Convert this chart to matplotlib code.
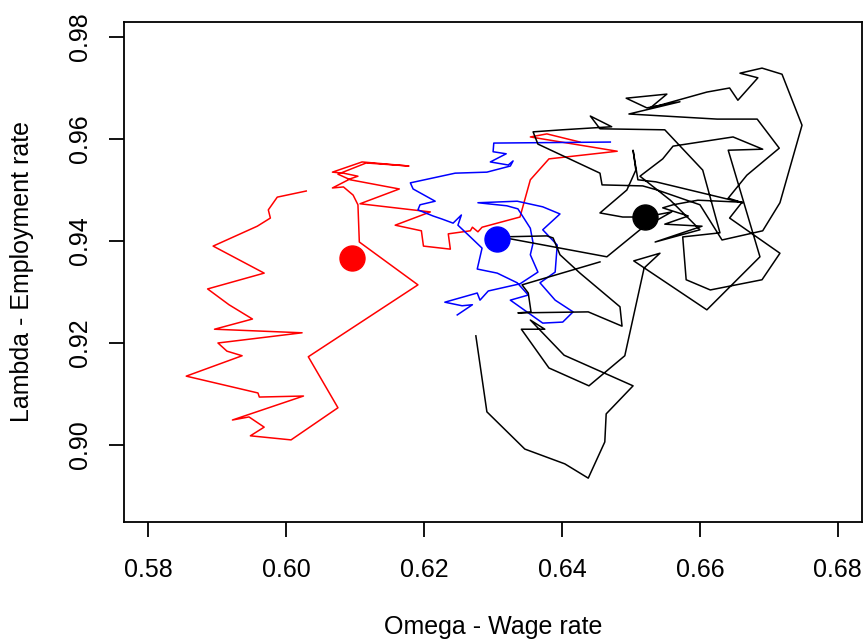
import matplotlib
matplotlib.use("Agg")
import matplotlib.pyplot as plt

plt.rcParams['font.family'] = ['Liberation Sans', 'DejaVu Sans']

# ---- data: (omega, lambda) trajectories ----
red_omega = [0.6029, 0.5987, 0.5974, 0.5977, 0.5958, 0.5894, 0.5968, 0.5886, 0.5917, 0.5951,
             0.5896, 0.6023, 0.5901, 0.5914, 0.5936, 0.5855, 0.5959, 0.5961, 0.6025, 0.5922,
             0.5946, 0.5968, 0.5948, 0.6007, 0.6075, 0.6032, 0.6191, 0.6106, 0.6104, 0.6097,
             0.6083, 0.6067, 0.6093, 0.6104, 0.6083, 0.6067, 0.6110, 0.6178, 0.6116, 0.6075,
             0.6093, 0.6164, 0.6107, 0.6209, 0.6158, 0.6196, 0.6199, 0.6238, 0.6235, 0.6267,
             0.6270, 0.6278, 0.6284, 0.6339, 0.6354, 0.6381, 0.6480, 0.6354, 0.6378, 0.6426]
red_lambda = [0.9498, 0.9486, 0.9461, 0.9445, 0.9429, 0.9390, 0.9337, 0.9306, 0.9275, 0.9247,
              0.9227, 0.9220, 0.9200, 0.9184, 0.9175, 0.9135, 0.9102, 0.9094, 0.9096, 0.9049,
              0.9055, 0.9035, 0.9018, 0.9010, 0.9073, 0.9173, 0.9314, 0.9398, 0.9471, 0.9490,
              0.9506, 0.9504, 0.9522, 0.9527, 0.9533, 0.9535, 0.9555, 0.9547, 0.9553, 0.9531,
              0.9520, 0.9502, 0.9473, 0.9457, 0.9431, 0.9420, 0.9390, 0.9384, 0.9414, 0.9420,
              0.9427, 0.9418, 0.9427, 0.9447, 0.9520, 0.9561, 0.9576, 0.9604, 0.9610, 0.9594]

blue_omega = [0.6470, 0.6301, 0.6300, 0.6319, 0.6296, 0.6322, 0.6329, 0.6325, 0.6291, 0.6245,
              0.6180, 0.6184, 0.6216, 0.6194, 0.6191, 0.6213, 0.6226, 0.6242, 0.6254, 0.6249,
              0.6267, 0.6284, 0.6277, 0.6306, 0.6335, 0.6351, 0.6325, 0.6372, 0.6401, 0.6416,
              0.6390, 0.6368, 0.6390, 0.6393, 0.6372, 0.6397, 0.6372, 0.6335, 0.6278, 0.6320,
              0.6336, 0.6354, 0.6358, 0.6354, 0.6365, 0.6339, 0.6293, 0.6281, 0.6277, 0.6230,
              0.6255, 0.6270, 0.6248]
blue_lambda = [0.9594, 0.9592, 0.9575, 0.9571, 0.9555, 0.9549, 0.9557, 0.9547, 0.9535, 0.9533,
               0.9514, 0.9502, 0.9478, 0.9471, 0.9461, 0.9449, 0.9443, 0.9435, 0.9451, 0.9431,
               0.9408, 0.9386, 0.9345, 0.9337, 0.9318, 0.9294, 0.9284, 0.9239, 0.9241, 0.9261,
               0.9284, 0.9318, 0.9339, 0.9392, 0.9422, 0.9453, 0.9467, 0.9478, 0.9475, 0.9469,
               0.9463, 0.9425, 0.9396, 0.9373, 0.9339, 0.9316, 0.9302, 0.9284, 0.9298, 0.9280,
               0.9273, 0.9275, 0.9255]

black_omega = [0.6275, 0.6291, 0.6346, 0.6404, 0.6438, 0.6462, 0.6464, 0.6503, 0.6403, 0.6354,
               0.6375, 0.6341, 0.6381, 0.6439, 0.6491, 0.6519, 0.6542, 0.6504, 0.6610, 0.6687,
               0.6641, 0.6691, 0.6648, 0.6561, 0.6546, 0.6513, 0.6557, 0.6586, 0.6600, 0.6535,
               0.6603, 0.6549, 0.6583, 0.6546, 0.6561, 0.6597, 0.6661, 0.6643, 0.6716, 0.6690,
               0.6615, 0.6580, 0.6575, 0.6629, 0.6604, 0.6549, 0.6455, 0.6441, 0.6472, 0.6400,
               0.6358, 0.6365, 0.6455, 0.6458, 0.6517, 0.6538, 0.6600, 0.6632, 0.6691, 0.6716,
               0.6748, 0.6719, 0.6690, 0.6658, 0.6684, 0.6655, 0.6643, 0.6610, 0.6528, 0.6552,
               0.6493, 0.6523, 0.6571, 0.6497, 0.6625, 0.6683, 0.6715, 0.6668, 0.6641, 0.6662,
               0.6536, 0.6510, 0.6503, 0.6507, 0.6494, 0.6455, 0.6488, 0.6520, 0.6559, 0.6513,
               0.6465, 0.6310, 0.6378, 0.6387, 0.6397, 0.6426, 0.6484, 0.6487, 0.6438, 0.6336,
               0.6355, 0.6351, 0.6342, 0.6455]
black_lambda = [0.9214, 0.9065, 0.8992, 0.8963, 0.8935, 0.9006, 0.9061, 0.9116, 0.9176, 0.9245,
                0.9227, 0.9227, 0.9151, 0.9116, 0.9175, 0.9347, 0.9376, 0.9361, 0.9265, 0.9369,
                0.9578, 0.9580, 0.9604, 0.9586, 0.9561, 0.9527, 0.9480, 0.9441, 0.9422, 0.9398,
                0.9429, 0.9433, 0.9449, 0.9465, 0.9471, 0.9480, 0.9476, 0.9445, 0.9376, 0.9324,
                0.9304, 0.9324, 0.9408, 0.9416, 0.9539, 0.9618, 0.9620, 0.9645, 0.9624, 0.9618,
                0.9614, 0.9590, 0.9533, 0.9510, 0.9508, 0.9500, 0.9471, 0.9402, 0.9420, 0.9475,
                0.9627, 0.9727, 0.9739, 0.9729, 0.9720, 0.9676, 0.9700, 0.9692, 0.9661, 0.9688,
                0.9680, 0.9661, 0.9673, 0.9649, 0.9639, 0.9639, 0.9582, 0.9529, 0.9484, 0.9475,
                0.9516, 0.9520, 0.9578, 0.9539, 0.9500, 0.9455, 0.9447, 0.9447, 0.9457, 0.9422,
                0.9369, 0.9408, 0.9410, 0.9406, 0.9373, 0.9337, 0.9271, 0.9233, 0.9261, 0.9259,
                0.9261, 0.9298, 0.9314, 0.9359]

# mean points
mean_omega = [0.6096, 0.6306, 0.6520]
mean_lambda = [0.9367, 0.9404, 0.9447]
mean_colors = ['#FF0000', '#0000FF', '#000000']

x_ticks = [0.58, 0.60, 0.62, 0.64, 0.66, 0.68]
y_ticks = [0.90, 0.92, 0.94, 0.96, 0.98]

fig = plt.figure(figsize=(8.65, 6.39), dpi=100)
ax = fig.add_axes([123.5 / 865, 1 - 522 / 639, (862 - 123.5) / 865, (522 - 22) / 639])

ax.plot(red_omega, red_lambda, color='#FF0000', lw=1.1)
ax.plot(blue_omega, blue_lambda, color='#0000FF', lw=1.1)
ax.plot(black_omega, black_lambda, color='#000000', lw=1.1)
for mx, my, mc in zip(mean_omega, mean_lambda, mean_colors):
    ax.plot([mx], [my], 'o', color=mc, markersize=18, zorder=5)

ax.set_xlim(0.5764, 0.6835)
ax.set_ylim(0.8849, 0.98294)
ax.set_xticks(x_ticks)
ax.set_xticklabels([f"{v:.2f}" for v in x_ticks])
ax.set_yticks(y_ticks)
ax.set_yticklabels([f"{v:.2f}" for v in y_ticks], rotation=90, va='center')

ax.tick_params(direction='out', length=10.8, width=1.3, labelsize=18, pad=15)
ax.tick_params(axis='y', pad=12)
for s in ax.spines.values():
    s.set_linewidth(1.3)

fig.text((123.5 + 862) / 2 / 865, 1 - 627 / 639, "Omega - Wage rate",
         ha='center', va='center', fontsize=18)
fig.text(22 / 865, 1 - 272 / 639, "Lambda - Employment rate",
         ha='center', va='center', rotation=90, fontsize=18)

fig.savefig("out.png", dpi=100)
